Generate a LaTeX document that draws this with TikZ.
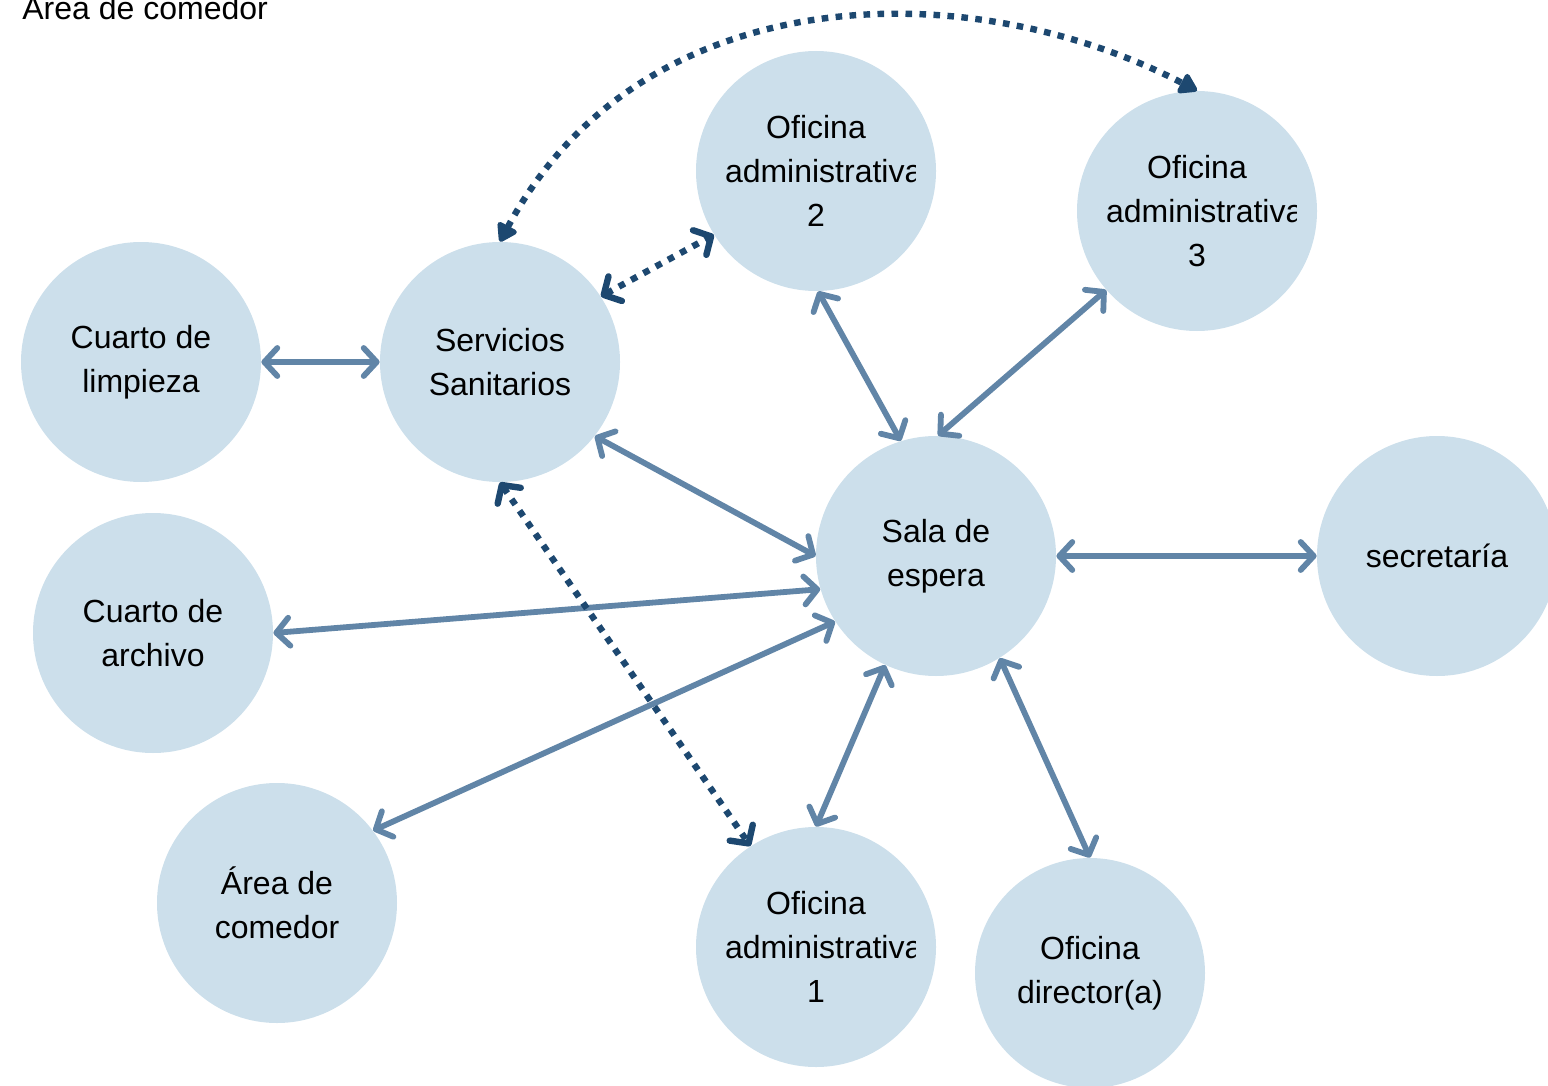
\documentclass[tikz,border=0pt]{standalone}
\usepackage{fontspec}
\setmainfont{Liberation Sans}
\usetikzlibrary{arrows.meta}
\definecolor{placefill}{HTML}{CCDFEB}
\definecolor{linkcol}{HTML}{6185A7}
\definecolor{dotcol}{HTML}{1D4870}
\tikzset{
  place/.style={circle,fill=placefill,draw=none,inner sep=0pt,minimum size=120pt},
  lbl/.style={align=center,font=\fontsize{16pt}{22pt}\selectfont,text=black},
  barb/.tip={Straight Barb[length=6.5pt,width=14pt,line cap=round,line join=round]},
  solidlink/.style={draw=linkcol,line width=2.9pt,line cap=round,barb-barb},
  dotlink/.style={draw=dotcol,line width=3.2pt,dash pattern=on 3.3pt off 3.7pt,barb-barb},
  dotcurve/.style={draw=dotcol,line width=3.2pt,dash pattern=on 3.3pt off 3.7pt,
    {Triangle[length=10pt,width=12pt,line join=round]}-{Triangle[length=10pt,width=12pt,line join=round]}}
}
\begin{document}
\begin{tikzpicture}[x=0.5pt,y=-0.5pt]
\useasboundingbox (0,0) rectangle (1548,1086);
\clip (0,0) rectangle (1548,1086);
% nodes
\node[place] (limp) at (141,362) {};
\node[lbl] at (limp) {Cuarto de\\limpieza};
\node[place] (srv) at (500,362) {};
\node[lbl] at (srv) {Servicios\\Sanitarios};
\node[place] (oa2) at (816,171) {};
\node[place] (oa3) at (1197,211) {};
\node[place] (sala) at (936,556) {};
\node[lbl] at (sala) {Sala de\\espera};
\node[place] (sec) at (1437,556) {};
\node[lbl] at (sec) {secretaría};
\node[place] (arch) at (153,633) {};
\node[lbl] at (arch) {Cuarto de\\archivo};
\node[place] (com) at (277,903) {};
\node[lbl] at (com) {Área de\\comedor};
\node[place] (oa1) at (816,947) {};
\node[place,minimum size=115pt] (dir) at (1090,973) {};
\node[lbl] at (dir) {Oficina\\director(a)};
\begin{scope}
\clip (724,60) rectangle (915,280);
\node[lbl] at (oa2) {Oficina\\\makebox[91pt][l]{administrativa}\\2};
\end{scope}
\begin{scope}
\clip (1105,100) rectangle (1296,320);
\node[lbl] at (oa3) {Oficina\\\makebox[91pt][l]{administrativa}\\3};
\end{scope}
\begin{scope}
\clip (724,836) rectangle (915,1056);
\node[lbl] at (oa1) {Oficina\\\makebox[91pt][l]{administrativa}\\1};
\end{scope}
\node[lbl,anchor=base west,inner sep=0pt] (toplbl) at (22,20) {Area de comedor};
% connectors
\draw[solidlink] (limp.east) -- (srv.west);
\draw[solidlink] (srv.-38) -- (sala.180);
\draw[solidlink] (oa2.-89) -- (sala.107);
\draw[solidlink] (oa3.-139) -- (sala.89);
\draw[solidlink] (sala.east) -- (sec.west);
\draw[solidlink] (sala.196) -- (arch.east);
\draw[solidlink] (sala.213) -- (com.37);
\draw[solidlink] (sala.245) -- (oa1.90);
\draw[solidlink] (sala.-58) -- (dir.90);
\draw[dotlink] (srv.33) -- (oa2.212);
\draw[dotlink] (srv.south) -- (oa1.123);
\draw[dotcurve] (srv.north) .. controls (640,-20) and (963,-30) .. (oa3.north);
\end{tikzpicture}
\end{document}
